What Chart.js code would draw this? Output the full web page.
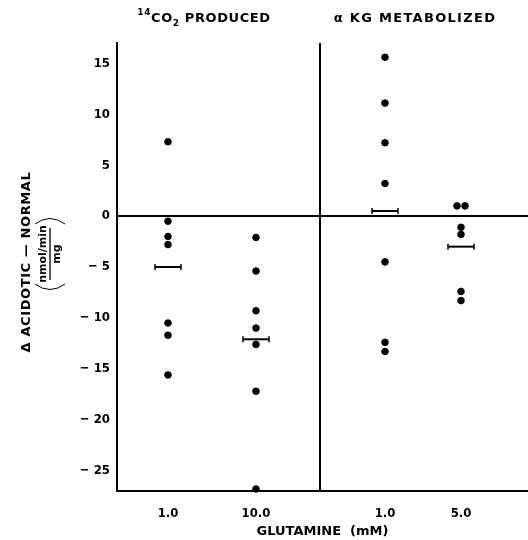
<!DOCTYPE html>
<html>
<head>
<meta charset="utf-8">
<title>Glutamine metabolism, acidotic - normal</title>
<script src="https://cdn.jsdelivr.net/npm/chart.js@4.4.0/dist/chart.umd.min.js"></script>
<style>
    html, body { margin: 0; padding: 0; background: #fff; overflow: hidden; }
    canvas { display: block; }
</style>
</head>
<body>
<canvas id="myChart" width="528" height="540"></canvas>
<script>
// Glutamine concentrations (tick labels) and where each group sits on the x axis
var groupLabels = ['1.0', '10.0', '1.0', '5.0'];
var groupX = [0.51, 1.39, 2.68, 3.44];

// Individual differences (acidotic - normal), nmol/min/mg
var co2Low = [7.3, -0.5, -2.0, -2.8, -10.5, -11.7, -15.6];   // 14CO2, 1.0 mM
var co2High = [-2.1, -5.4, -9.3, -11.0, -12.6, -17.2, -26.8]; // 14CO2, 10.0 mM
var akgLow = [15.6, 11.1, 7.2, 3.2, -4.5, -12.4, -13.3];     // aKG, 1.0 mM
var akgHigh = [1.0, 1.0, -1.1, -1.8, -7.4, -8.3];            // aKG, 5.0 mM
var akgHighJitter = [-0.04, 0.04, 0, 0, 0, 0];               // side by side dots

// Group means (the short bars)
var groupMeans = [-5.0, -12.1, 0.5, -3.0];

// Axis range and the divider between the two panels
var yMin = -27, yMax = 17;
var yTicks = [15, 10, 5, 0, -5, -10, -15, -20, -25];
var xMin = 0, xMax = 4.11;
var dividerX = 2.03;

var groups = [co2Low, co2High, akgLow, akgHigh];

function toPoints(values, gx, jitter) {
    return values.map((v, i) => ({ x: gx + (jitter ? jitter[i] : 0), y: v }));
}

var datasets = [];

// the dots
groups.forEach((values, i) => {
    datasets.push({
        type: 'scatter',
        data: toPoints(values, groupX[i], i == 3 ? akgHighJitter : null),
        backgroundColor: '#000',
        borderColor: '#000',
        pointRadius: 3.3,
        pointHoverRadius: 3.3,
        clip: false
    });
});

// the mean bars, with small end caps
groupMeans.forEach((m, i) => {
    datasets.push({
        type: 'line',
        data: [{ x: groupX[i] - 0.13, y: m }, { x: groupX[i] + 0.13, y: m }],
        borderColor: '#000',
        borderWidth: 2,
        pointStyle: 'line',
        rotation: 90,
        pointRadius: 3,
        pointBorderWidth: 1.5,
        pointBorderColor: '#000'
    });
});

// zero line and the panel divider
datasets.push({
    type: 'line',
    data: [{ x: xMin, y: 0 }, { x: xMax, y: 0 }],
    borderColor: '#000',
    borderWidth: 2,
    pointRadius: 0
});
datasets.push({
    type: 'line',
    data: [{ x: dividerX, y: yMin }, { x: dividerX, y: yMax }],
    borderColor: '#000',
    borderWidth: 2,
    pointRadius: 0
});

// Headers over each panel and the rotated y title (drawn on the canvas)
var labelsPlugin = {
    id: 'labelsPlugin',
    afterDraw(chart) {
        const ctx = chart.ctx;
        const xs = chart.scales.x;
        ctx.save();
        ctx.fillStyle = '#000';
        ctx.strokeStyle = '#000';
        ctx.textBaseline = 'middle';

        // 14CO2 PRODUCED
        const big = 'bold 13px "DejaVu Sans"';
        const small = 'bold 9px "DejaVu Sans"';
        ctx.letterSpacing = '0.6px';
        const parts = [
            { t: '14', f: small, dy: -6 },
            { t: 'CO', f: big, dy: 0 },
            { t: '2', f: small, dy: 5 },
            { t: ' PRODUCED', f: big, dy: 0 }
        ];
        let total = 0;
        parts.forEach(p => { ctx.font = p.f; p.w = ctx.measureText(p.t).width; total += p.w; });
        let x = xs.getPixelForValue((groupX[0] + groupX[1]) / 2) - 8 - total / 2;
        parts.forEach(p => {
            ctx.font = p.f;
            ctx.textAlign = 'left';
            ctx.fillText(p.t, x, 19 + p.dy);
            x += p.w;
        });

        // alpha KG METABOLIZED
        ctx.font = big;
        ctx.letterSpacing = '1.3px';
        ctx.textAlign = 'center';
        ctx.fillText('\u03b1 KG METABOLIZED', xs.getPixelForValue((groupX[2] + groupX[3]) / 2) - 8, 19);

        // y title
        ctx.letterSpacing = '0.6px';
        ctx.translate(27, 262);
        ctx.rotate(-Math.PI / 2);
        ctx.font = big;
        ctx.fillText('\u0394 ACIDOTIC \u2014 NORMAL', 0, 0);

        // (nmol/min / mg), a little higher than the title centre
        ctx.letterSpacing = '0px';
        ctx.translate(8, 23);
        ctx.font = 'bold 11px "DejaVu Sans"';
        ctx.fillText('nmol/min', 0, -7);
        ctx.fillText('mg', 0, 7);
        ctx.lineWidth = 1.3;
        ctx.beginPath();
        ctx.moveTo(-26, 0);
        ctx.lineTo(26, 0);
        ctx.stroke();
        ctx.lineWidth = 1;
        ctx.beginPath();
        ctx.moveTo(-30, -15);
        ctx.quadraticCurveTo(-41, 0, -30, 15);
        ctx.moveTo(30, -15);
        ctx.quadraticCurveTo(41, 0, 30, 15);
        ctx.stroke();
        ctx.restore();
    }
};

var tickFont = { family: '"Liberation Sans Narrow", "DejaVu Sans Condensed", sans-serif', size: 13, weight: 'bold' };

new Chart('myChart', {
    data: { datasets: datasets },
    options: {
        responsive: false,
        animation: false,
        events: [],
        layout: { autoPadding: false, padding: { top: 43, left: 0, right: 0, bottom: 0 } },
        plugins: {
            legend: { display: false },
            tooltip: { enabled: false }
        },
        scales: {
            x: {
                type: 'linear',
                min: xMin,
                max: xMax,
                afterBuildTicks: (scale) => {
                    scale.ticks = groupX.map(v => ({ value: v }));
                },
                afterFit: (scale) => {
                    scale.height = 49;
                    scale.paddingLeft = 0;
                    scale.paddingRight = 0;
                },
                ticks: {
                    color: '#000',
                    font: tickFont,
                    padding: 15,
                    maxRotation: 0,
                    autoSkip: false,
                    callback: (value, index) => groupLabels[index]
                },
                grid: { display: false, drawTicks: false },
                border: { display: true, color: '#000', width: 2 },
                title: {
                    display: true,
                    text: 'GLUTAMINE  (mM)',
                    color: '#000',
                    font: { family: '"DejaVu Sans"', size: 13, weight: 'bold' },
                    padding: { top: 0, bottom: 1 }
                }
            },
            y: {
                type: 'linear',
                min: yMin,
                max: yMax,
                afterBuildTicks: (scale) => {
                    scale.ticks = yTicks.map(v => ({ value: v }));
                },
                afterFit: (scale) => {
                    scale.width = 117;
                    scale.paddingTop = 0;
                    scale.paddingBottom = 0;
                },
                ticks: {
                    color: '#000',
                    font: tickFont,
                    padding: 7,
                    callback: (value) => value < 0 ? '\u2212 ' + Math.abs(value) : String(value)
                },
                grid: { display: false, drawTicks: false },
                border: { display: true, color: '#000', width: 2 }
            }
        }
    },
    plugins: [labelsPlugin]
});
</script>
</body>
</html>
